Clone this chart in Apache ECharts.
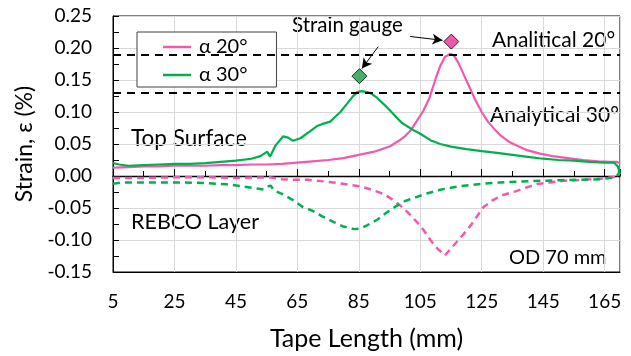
<!DOCTYPE html>
<html>
<head>
<meta charset="utf-8">
<script src="https://cdn.jsdelivr.net/npm/echarts@6/dist/echarts.min.js"></script>
<style>html,body{margin:0;padding:0;background:#fff}#c{width:631px;height:356px}</style>
</head>
<body>
<div id="c"></div>
<script>
// ---------- data ----------
var xTicks = [5, 25, 45, 65, 85, 105, 125, 145, 165];
var yTicks = [-0.15, -0.10, -0.05, 0.00, 0.05, 0.10, 0.15, 0.20, 0.25];

var pinkTopX = [5,10,15,20,25,30,35,40,45,50,55,60,65,70,75,80,85,90,95,98,100,102,104,106,108,110,111.5,113,114.8,116,117.5,119,121,123,125,127,129,131,134,137,140,144,148,153,158,163,167,169,170];
var pinkTopY = [0.013,0.014,0.015,0.015,0.016,0.016,0.016,0.017,0.017,0.018,0.018,0.019,0.021,0.023,0.025,0.028,0.033,0.038,0.046,0.055,0.062,0.072,0.087,0.102,0.122,0.152,0.172,0.186,0.191,0.188,0.176,0.160,0.139,0.118,0.100,0.085,0.074,0.064,0.053,0.046,0.040,0.035,0.031,0.028,0.025,0.023,0.022,0.022,0.020];

var greenTopX = [5,7,10,15,20,25,30,35,40,45,50,53,55.2,56.1,57.8,60.4,62,63.6,66,69.2,71.4,73,75.7,77,79,81,83,84.5,86,88.7,91,93.6,95,97,99,101,103,105,108.3,111.5,115,120,125,130,135,140,145,150,155,160,165,168,169.3,170];
var greenTopY = [0.020,0.018,0.016,0.017,0.018,0.019,0.019,0.020,0.022,0.024,0.027,0.031,0.038,0.030,0.047,0.062,0.060,0.055,0.059,0.070,0.078,0.081,0.085,0.091,0.100,0.112,0.124,0.131,0.1326,0.130,0.122,0.110,0.103,0.093,0.083,0.077,0.071,0.066,0.056,0.050,0.046,0.042,0.039,0.036,0.033,0.030,0.027,0.025,0.024,0.022,0.021,0.021,0.015,0.003];

var pinkRebcoX = [5,15,25,35,45,56,60,64,68.5,72.8,76.7,81,85.3,89.5,93,96,98.7,101.4,104.3,106,108.3,110.5,113,115.4,118.7,121.6,123.6,125.5,128.5,131.7,136,139.5,143,147.3,151.6,156,160.4,164.3,168.8,170];
var pinkRebcoY = [-0.003,-0.003,-0.002,-0.002,-0.003,-0.002,-0.005,-0.006,-0.006,-0.008,-0.010,-0.013,-0.016,-0.022,-0.028,-0.037,-0.047,-0.059,-0.074,-0.084,-0.100,-0.113,-0.124,-0.111,-0.093,-0.076,-0.062,-0.049,-0.038,-0.030,-0.024,-0.018,-0.0125,-0.010,-0.0075,-0.0065,-0.005,-0.004,-0.001,0.000];

var greenRebcoX = [5,8,15,25,35,42,47,51,54,55.6,56.3,57.5,60,63.7,66.6,69.8,73.1,76.7,80,83.5,85.5,87.7,91.1,94.4,97.2,100.1,103.7,107.4,111.2,114.1,118,124.5,131,137.6,144,150.6,157,163.6,168.5,169.5,170];
var greenRebcoY = [-0.012,-0.010,-0.010,-0.010,-0.011,-0.013,-0.016,-0.019,-0.021,-0.016,-0.015,-0.023,-0.028,-0.038,-0.048,-0.054,-0.063,-0.0715,-0.079,-0.083,-0.082,-0.077,-0.068,-0.056,-0.047,-0.039,-0.033,-0.027,-0.022,-0.019,-0.016,-0.0125,-0.010,-0.0085,-0.0075,-0.0065,-0.0058,-0.005,-0.002,0.003,0.013];

var gaugeX = [115.1, 85.2];
var gaugeY = [0.210, 0.156];
var analyticalY = [0.187, 0.128];
var arrowFrom = [[91.3, 0.202], [101.7, 0.218]];
var arrowTo   = [[86.0, 0.168], [112.2, 0.212]];

var seriesNames = ['α 20°', 'α 30°'];

// ---------- helpers ----------
function pairs(xs, ys) { return xs.map(function (x, i) { return [x, ys[i]]; }); }
var PINK = '#EF5AAF', GREEN = '#00B050';
var FONT = 'Lato';

var chart = echarts.init(document.getElementById('c'), null, {renderer: 'canvas'});
chart.setOption({
  animation: false,
  backgroundColor: '#fff',
  textStyle: {fontFamily: FONT},
  grid: {left: 113, right: 11, top: 16, bottom: 80, show: true, borderColor: '#000', borderWidth: 1},
  legend: {
    data: seriesNames,
    icon: 'rect',
    orient: 'vertical',
    left: 137, top: 32,
    padding: [5, 29, 2, 26],
    itemWidth: 28, itemHeight: 2.5, itemGap: 8,
    backgroundColor: '#fff', borderColor: '#404040', borderWidth: 1,
    textStyle: {fontSize: 20, lineHeight: 20, color: '#000', fontFamily: FONT, padding: [0, 0, 0, 3]}
  },
  xAxis: [{
    type: 'value', min: xTicks[0], max: 170, interval: 20, position: 'bottom',
    name: 'Tape Length (mm)', nameLocation: 'middle', nameGap: 54,
    nameTextStyle: {fontSize: 25, color: '#000', fontFamily: FONT},
    axisLine: {show: true, onZero: false, lineStyle: {color: '#000', width: 1}},
    axisTick: {show: false},
    axisLabel: {fontSize: 19, color: '#000', margin: 20, showMaxLabel: false, fontFamily: FONT},
    splitLine: {show: true, lineStyle: {color: '#d9d9d9', width: 1}}
  }, {
    type: 'value', min: xTicks[0], max: 170, interval: 20, position: 'bottom',
    axisLine: {show: true, onZero: true, onZeroAxisIndex: 0, lineStyle: {color: '#000', width: 1.3}},
    axisTick: {show: true, inside: true, length: 7, lineStyle: {color: '#000', width: 1}},
    minorTick: {show: true, splitNumber: 2, length: 5, lineStyle: {color: '#000', width: 1}},
    axisLabel: {show: false},
    splitLine: {show: false}
  }],
  yAxis: [{
    type: 'value', min: yTicks[0], max: yTicks[yTicks.length - 1], interval: 0.05,
    name: 'Strain, ε (%)', nameLocation: 'middle', nameGap: 68,
    nameTextStyle: {fontSize: 23, color: '#000', fontFamily: FONT},
    axisLine: {show: true, onZero: false, lineStyle: {color: '#000', width: 1}},
    axisTick: {show: true, inside: true, length: 6, lineStyle: {color: '#000'}},
    minorTick: {show: true, splitNumber: 2, length: 6, lineStyle: {color: '#000'}},
    axisLabel: {fontSize: 19, color: '#000', margin: 21, fontFamily: FONT,
      formatter: function (v) { return Math.abs(v) < 1e-9 ? '0.00' : v.toFixed(2); }},
    splitLine: {show: true, lineStyle: {color: '#d9d9d9', width: 1}}
  }],
  series: [
    {
      name: 'analytical', type: 'line', data: [], silent: true,
      markLine: {
        silent: true, symbol: ['none', 'none'], label: {show: false},
        lineStyle: {color: '#000', width: 2, type: [8, 6]},
        data: analyticalY.map(function (v) { return {yAxis: v}; })
      }
    },
    {name: 'α 20° REBCO', type: 'line', data: pairs(pinkRebcoX, pinkRebcoY), showSymbol: false, symbol: 'none',
      lineStyle: {color: PINK, width: 2.5, type: [7, 5]}, itemStyle: {color: PINK}},
    {name: 'α 30° REBCO', type: 'line', data: pairs(greenRebcoX, greenRebcoY), showSymbol: false, symbol: 'none',
      lineStyle: {color: GREEN, width: 2.5, type: [7, 5]}, itemStyle: {color: GREEN}},
    {name: seriesNames[0], type: 'line', data: pairs(pinkTopX, pinkTopY), showSymbol: false, symbol: 'none',
      lineStyle: {color: PINK, width: 2.2}, itemStyle: {color: PINK}},
    {name: seriesNames[1], type: 'line', data: pairs(greenTopX, greenTopY), showSymbol: false, symbol: 'none',
      lineStyle: {color: GREEN, width: 2.2}, itemStyle: {color: GREEN}},
    {
      name: 'gauge', type: 'scatter', symbol: 'diamond', symbolSize: 15, z: 5,
      data: [
        {value: [gaugeX[0], gaugeY[0]], itemStyle: {color: '#EC2E98', borderColor: '#000', borderWidth: 1}},
        {value: [gaugeX[1], gaugeY[1]], itemStyle: {color: '#169E48', borderColor: '#000', borderWidth: 1}}
      ],
      markLine: {
        silent: true, symbol: ['none', 'arrow'], symbolSize: [8, 10], label: {show: false},
        lineStyle: {color: '#000', width: 1, type: 'solid'},
        data: arrowFrom.map(function (f, i) { return [{coord: f}, {coord: arrowTo[i]}]; })
      }
    }
  ],
  graphic: [
    {type: 'text', left: 292, top: 15, style: {text: 'Strain gauge', fontSize: 20.5, fontFamily: FONT, fill: '#000'}},
    {type: 'text', left: 492, top: 30, style: {text: 'Analitical 20°', fontSize: 21, fontFamily: FONT, fill: '#000'}},
    {type: 'text', left: 490, top: 105, style: {text: 'Analytical 30°', fontSize: 21, fontFamily: FONT, fill: '#000'}},
    {type: 'text', left: 131, top: 127, style: {text: 'Top Surface', fontSize: 22.5, fontFamily: FONT, fill: '#000'}},
    {type: 'text', left: 131, top: 211, style: {text: 'REBCO Layer', fontSize: 21.5, fontFamily: FONT, fill: '#000'}},
    {type: 'text', left: 509, top: 248, style: {text: 'OD 70 mm', fontSize: 20, fontFamily: FONT, fill: '#000'}}
  ]
});
</script>
</body>
</html>
